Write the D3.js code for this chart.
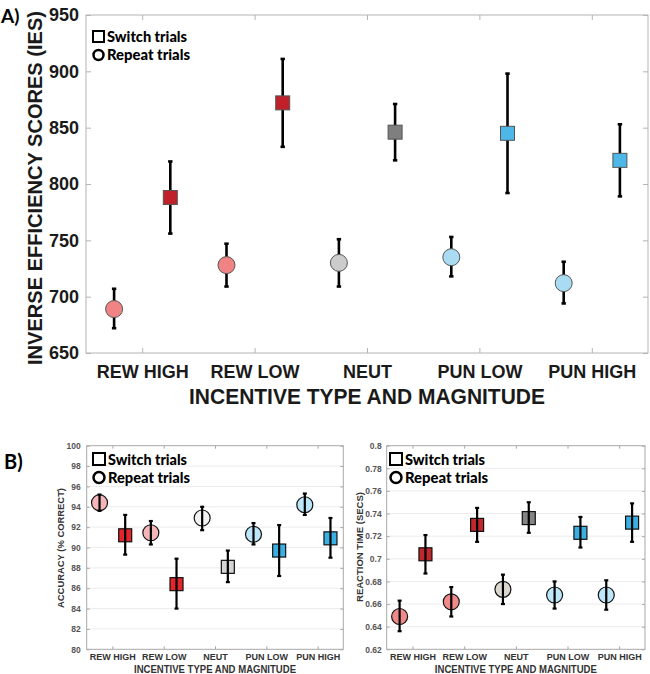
<!DOCTYPE html>
<html><head><meta charset="utf-8">
<script src="https://cdn.jsdelivr.net/npm/d3@7"></script>
<style>body{margin:0;background:#fff} svg{display:block}</style>
</head><body>
<svg id="c" width="650" height="674"></svg>
<script>
// ---------- DATA ----------
const categories = ["REW HIGH", "REW LOW", "NEUT", "PUN LOW", "PUN HIGH"];

// Panel A: inverse efficiency scores
const iesTicks = [650, 700, 750, 800, 850, 900, 950];
const iesSwitch = [788, 872, 846, 845, 821];
const iesSwitchLow = [756, 833, 821, 792, 789];
const iesSwitchHigh = [820, 911, 871, 898, 853];
const iesRepeat = [689, 728, 730, 735, 712];
const iesRepeatLow = [672, 709, 709, 718, 694];
const iesRepeatHigh = [707, 747, 751, 753, 731];

// Panel B left: accuracy
const accTicks = [80, 82, 84, 86, 88, 90, 92, 94, 96, 98, 100];
const accSwitch = [91.2, 86.4, 88.1, 89.7, 90.9];
const accSwitchLow = [89.3, 84.0, 86.6, 87.2, 89.0];
const accSwitchHigh = [93.2, 88.9, 89.7, 92.2, 92.9];
const accRepeat = [94.4, 91.45, 92.9, 91.3, 94.2];
const accRepeatLow = [93.6, 90.3, 91.7, 90.3, 93.2];
const accRepeatHigh = [95.2, 92.6, 94.0, 92.4, 95.3];

// Panel B right: reaction time
const rtTicks = [0.62, 0.64, 0.66, 0.68, 0.70, 0.72, 0.74, 0.76, 0.78, 0.80];
const rtSwitch = [0.704, 0.730, 0.736, 0.723, 0.732];
const rtSwitchLow = [0.687, 0.715, 0.723, 0.710, 0.715];
const rtSwitchHigh = [0.721, 0.745, 0.750, 0.737, 0.749];
const rtRepeat = [0.649, 0.662, 0.673, 0.668, 0.668];
const rtRepeatLow = [0.636, 0.649, 0.660, 0.656, 0.655];
const rtRepeatHigh = [0.663, 0.675, 0.686, 0.680, 0.681];

// colours
const iesSwitchColors = ["#c0202a", "#c0202a", "#7f7f7f", "#4db8e8", "#4db8e8"];
const iesRepeatColors = ["#f08484", "#f08484", "#cccccc", "#a9dcf2", "#a9dcf2"];
const accSwitchColors = ["#e2262b", "#e2262b", "#d4d4d4", "#3ab0e2", "#3ab0e2"];
const accRepeatColors = ["#f5b6b9", "#f5b6b9", "#f2f2f2", "#bde6f8", "#bde6f8"];
const rtSwitchColors = ["#c0282c", "#c0282c", "#858585", "#3ab0e2", "#3ab0e2"];
const rtRepeatColors = ["#f08a8a", "#f08a8a", "#dcd8d0", "#bde6f8", "#bde6f8"];

// ---------- DRAW ----------
const svg = d3.select("#c");
const FONT = "'Liberation Sans', Arial, Helvetica, sans-serif";
const LFONT = "Lato, 'Open Sans', sans-serif";

function panel(o) {
  const g = svg.append("g");
  const x = d3.scaleLinear().domain([0.5, 5.5]).range([o.x0, o.x1]);
  const y = d3.scaleLinear().domain([o.ticks[0], o.ticks[o.ticks.length - 1]]).range([o.y0, o.y1]);

  if (o.grid) {
    g.append("g").selectAll("line").data(o.ticks.slice(1, -1)).join("line")
      .attr("x1", o.x0).attr("x2", o.x1)
      .attr("y1", d => y(d)).attr("y2", d => y(d))
      .attr("stroke", "#ececec").attr("stroke-width", 1);
  }

  const styleAxis = (sel, fs, fw, col) => {
    sel.select(".domain").remove();
    sel.selectAll(".tick line").attr("stroke", o.frameColor);
    sel.selectAll("text").attr("font-family", FONT).attr("font-size", fs)
      .attr("font-weight", fw).attr("fill", col);
  };

  const cats = [1, 2, 3, 4, 5];
  g.append("g").attr("transform", `translate(0,${o.y0})`)
    .call(d3.axisBottom(x).tickValues(cats).tickFormat(i => categories[i - 1])
      .tickSizeInner(-o.tick).tickSizeOuter(0).tickPadding(o.xPad))
    .call(s => styleAxis(s, o.xfs, "bold", o.labelColor));
  g.append("g").attr("transform", `translate(0,${o.y1})`)
    .call(d3.axisTop(x).tickValues(cats).tickFormat("").tickSizeInner(-o.tick).tickSizeOuter(0))
    .call(s => styleAxis(s, 1, "normal", "#000"));
  g.append("g").attr("transform", `translate(${o.x0},0)`)
    .call(d3.axisLeft(y).tickValues(o.ticks).tickFormat(o.fmt)
      .tickSizeInner(-o.tick).tickSizeOuter(0).tickPadding(o.yPad))
    .call(s => styleAxis(s, o.yfs, "bold", o.tickColor));
  g.append("g").attr("transform", `translate(${o.x1},0)`)
    .call(d3.axisRight(y).tickValues(o.ticks).tickFormat("").tickSizeInner(-o.tick).tickSizeOuter(0))
    .call(s => styleAxis(s, 1, "normal", "#000"));

  g.append("rect").attr("x", o.x0).attr("y", o.y1)
    .attr("width", o.x1 - o.x0).attr("height", o.y0 - o.y1)
    .attr("fill", "none").attr("stroke", o.frameColor).attr("stroke-width", 1);

  const series = [
    { v: o.rep, lo: o.repLo, hi: o.repHi, c: o.repCol, off: -0.25, shape: "circle" },
    { v: o.sw, lo: o.swLo, hi: o.swHi, c: o.swCol, off: 0.25, shape: "square" }
  ];

  const drawBars = () => {
    series.forEach(s => {
      const eg = g.append("g");
      s.v.forEach((v, i) => {
        const cx = x(i + 1 + s.off);
        eg.append("line").attr("x1", cx).attr("x2", cx)
          .attr("y1", y(s.lo[i])).attr("y2", y(s.hi[i]))
          .attr("stroke", "#000").attr("stroke-width", o.barW);
        [s.lo[i], s.hi[i]].forEach(e => {
          eg.append("line").attr("x1", cx - o.cap).attr("x2", cx + o.cap)
            .attr("y1", y(e)).attr("y2", y(e))
            .attr("stroke", "#000").attr("stroke-width", o.barW);
        });
      });
    });
  };
  const drawMarks = () => {
    series.forEach(s => {
      const mg = g.append("g");
      s.v.forEach((v, i) => {
        const cx = x(i + 1 + s.off), cy = y(v);
        if (s.shape === "circle") {
          mg.append("circle").attr("cx", cx).attr("cy", cy).attr("r", o.r)
            .attr("fill", s.c[i]).attr("stroke", o.markStroke).attr("stroke-width", o.markSW);
        } else {
          mg.append("rect").attr("x", cx - o.sq / 2).attr("y", cy - o.sq / 2)
            .attr("width", o.sq).attr("height", o.sq)
            .attr("fill", s.c[i]).attr("stroke", o.markStroke).attr("stroke-width", o.markSW);
        }
      });
    });
  };
  if (o.barsOnTop) { drawMarks(); drawBars(); } else { drawBars(); drawMarks(); }

  // legend
  const L = o.legend;
  g.append("rect").attr("x", L.x).attr("y", L.y1 - L.s / 2).attr("width", L.s).attr("height", L.s)
    .attr("fill", "#fff").attr("stroke", "#000").attr("stroke-width", L.sw);
  g.append("circle").attr("cx", L.x + L.s / 2).attr("cy", L.y2).attr("r", L.s / 2 - 0.5)
    .attr("fill", "#fff").attr("stroke", "#000").attr("stroke-width", L.sw + 0.5);
  g.append("text").attr("x", L.tx).attr("y", L.y1 + L.fs * 0.36)
    .attr("font-family", LFONT).attr("font-weight", 900).attr("font-size", L.fs)
    .attr("textLength", L.w1).attr("lengthAdjust", "spacingAndGlyphs")
    .text("Switch trials");
  g.append("text").attr("x", L.tx).attr("y", L.y2 + L.fs * 0.36)
    .attr("font-family", LFONT).attr("font-weight", 900).attr("font-size", L.fs)
    .attr("textLength", L.w2).attr("lengthAdjust", "spacingAndGlyphs")
    .text("Repeat trials");

  // axis titles
  g.append("text")
    .attr("transform", `translate(${o.ylab.x},${o.ylab.y}) rotate(-90) scale(1,${o.ylab.sy || 1})`)
    .attr("text-anchor", "middle").attr("font-family", FONT).attr("font-weight", "bold")
    .attr("font-size", o.ylab.fs).attr("fill", o.labelColor)
    .attr("textLength", o.ylab.len).attr("lengthAdjust", "spacingAndGlyphs")
    .text(o.ylab.text);
  g.append("text").attr("x", (o.x0 + o.x1) / 2).attr("y", o.xlab.y)
    .attr("text-anchor", "middle").attr("font-family", FONT).attr("font-weight", "bold")
    .attr("font-size", o.xlab.fs).attr("fill", o.labelColor)
    .attr("textLength", o.xlab.len).attr("lengthAdjust", "spacingAndGlyphs")
    .text("INCENTIVE TYPE AND MAGNITUDE");
}

// Panel A
panel({
  x0: 86, x1: 648, y0: 353, y1: 15, ticks: iesTicks, fmt: d3.format("d"),
  grid: false, tick: 5, xPad: 12, yPad: 7, xfs: 18, yfs: 18,
  labelColor: "#1a1a1a", tickColor: "#1a1a1a", frameColor: "#b4b4b4",
  sw: iesSwitch, swLo: iesSwitchLow, swHi: iesSwitchHigh, swCol: iesSwitchColors,
  rep: iesRepeat, repLo: iesRepeatLow, repHi: iesRepeatHigh, repCol: iesRepeatColors,
  r: 8.5, sq: 14, markStroke: "#555", markSW: 1, barW: 2.6, cap: 2.2, barsOnTop: false,
  legend: { x: 93, y1: 36.5, y2: 55, s: 11, sw: 2, tx: 107, fs: 15, w1: 80, w2: 83 },
  ylab: { x: 42, y: 188, fs: 18, sy: 1.16, len: 354, text: "INVERSE EFFICIENCY SCORES (IES)" },
  xlab: { y: 404, fs: 22, len: 356 }
});

// Panel B left
panel({
  x0: 86.7, x1: 343.3, y0: 649.3, y1: 445.7, ticks: accTicks, fmt: d3.format("d"),
  grid: true, tick: 3, xPad: 4.5, yPad: 6, xfs: 9, yfs: 8.5,
  labelColor: "#333", tickColor: "#555", frameColor: "#a8a8a8",
  sw: accSwitch, swLo: accSwitchLow, swHi: accSwitchHigh, swCol: accSwitchColors,
  rep: accRepeat, repLo: accRepeatLow, repHi: accRepeatHigh, repCol: accRepeatColors,
  r: 8, sq: 13, markStroke: "#111", markSW: 1.2, barW: 2.2, cap: 2, barsOnTop: true,
  legend: { x: 93, y1: 459, y2: 477.5, s: 12, sw: 2, tx: 108, fs: 15.5, w1: 79, w2: 82 },
  ylab: { x: 63.5, y: 548, fs: 9, len: 120, text: "ACCURACY (% CORRECT)" },
  xlab: { y: 673, fs: 10.5, len: 162 }
});

// Panel B right
panel({
  x0: 386.7, x1: 645, y0: 649.3, y1: 445.7, ticks: rtTicks, fmt: d => d3.format("")(+d.toFixed(2)),
  grid: true, tick: 3, xPad: 4.5, yPad: 5, xfs: 9, yfs: 8.5,
  labelColor: "#333", tickColor: "#555", frameColor: "#a8a8a8",
  sw: rtSwitch, swLo: rtSwitchLow, swHi: rtSwitchHigh, swCol: rtSwitchColors,
  rep: rtRepeat, repLo: rtRepeatLow, repHi: rtRepeatHigh, repCol: rtRepeatColors,
  r: 8, sq: 13, markStroke: "#111", markSW: 1.2, barW: 2.2, cap: 2, barsOnTop: true,
  legend: { x: 390, y1: 459, y2: 477.5, s: 12, sw: 2, tx: 405, fs: 15.5, w1: 80, w2: 83 },
  ylab: { x: 363, y: 547, fs: 9, len: 110, text: "REACTION TIME (SECS)" },
  xlab: { y: 673, fs: 10.5, len: 162 }
});

// panel letters
svg.append("text").attr("x", 1).attr("y", 23).attr("font-family", LFONT)
  .attr("font-weight", "bold").attr("font-size", 19).text("A)");
svg.append("text").attr("x", 4).attr("y", 469).attr("font-family", LFONT)
  .attr("font-weight", "bold").attr("font-size", 20).text("B)");
</script>
</body></html>
